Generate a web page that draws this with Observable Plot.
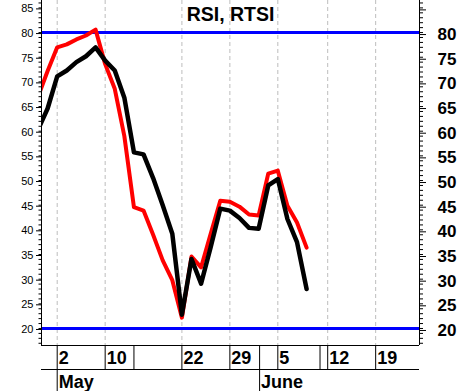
<!DOCTYPE html>
<html><head><meta charset="utf-8">
<script src="https://cdn.jsdelivr.net/npm/d3@7"></script>
<script src="https://cdn.jsdelivr.net/npm/@observablehq/plot@0.6"></script>
<style>body{margin:0;background:#fff}</style>
</head><body><div id="chart"></div>
<script>
const title = "RSI, RTSI";
// trading days (index 0 = 2 May 2006)
const tradingDays = ["2006-04-27","2006-04-28","2006-05-02","2006-05-03","2006-05-04","2006-05-05","2006-05-06",
  "2006-05-10","2006-05-11","2006-05-12","2006-05-15","2006-05-16","2006-05-17","2006-05-18","2006-05-19",
  "2006-05-22","2006-05-23","2006-05-24","2006-05-25","2006-05-26","2006-05-29","2006-05-30","2006-05-31",
  "2006-06-01","2006-06-02","2006-06-05","2006-06-06","2006-06-07","2006-06-08"];
const firstIndex = -2;
const redSeries = [67.0,72.2,77.0,77.6,78.6,79.4,80.6,73.6,68.6,59.0,44.6,43.9,39.0,33.8,29.8,22.2,34.6,32.4,39.2,45.9,45.7,44.7,43.1,42.9,51.4,52.0,44.9,41.5,36.4];
const blackSeries = [60.3,64.6,71.1,72.3,74.0,75.2,77.0,74.3,72.3,66.8,55.7,55.3,50.5,45.0,39.2,22.8,34.1,29.1,36.5,44.3,43.9,42.4,40.4,40.2,49.0,50.3,42.2,37.5,28.0];
const dayTickLabels = ["2","10","22","29","5","12","19"];
const dayTickIndex = [0,5,13,18,23,28.2,33.2];
const separatorIndex = [5,8,13,18,23,27.4,28.2,33.2];
const monthLabels = ["May","June"];
const monthIndex = [0,21.1];
const levels = [20,80];
const xDomain = [-1.637, 37.77];
const yDomain = [16.55, 86.5];
const majorTicks = d3.range(20, 90, 5);
const minorTicks = d3.range(17, 87);

const data = tradingDays.map((d, k) => ({date: d, i: k + firstIndex, red: redSeries[k], black: blackSeries[k]}));
const dayTicks = dayTickIndex.map((p, k) => ({p, label: dayTickLabels[k]}));
const months = monthIndex.map((p, k) => ({p, label: monthLabels[k]}));
const font = "'Liberation Sans', Arial, sans-serif";

const chart = Plot.plot({
  width: 460, height: 391,
  marginLeft: 41, marginRight: 41, marginTop: 0, marginBottom: 46,
  style: {fontFamily: font, background: "#fff", color: "#000", overflow: "visible"},
  x: {domain: xDomain, label: null},
  y: {domain: yDomain, label: null},
  marks: [
    Plot.ruleX(dayTickIndex, {stroke: "#bdbdbd", strokeDasharray: "4,3", strokeWidth: 1}),
    Plot.ruleY(levels, {stroke: "#0000ff", strokeWidth: 3}),
    Plot.line(data, {x: "i", y: "red", stroke: "#ff0000", strokeWidth: 4, clip: true}),
    Plot.line(data, {x: "i", y: "black", stroke: "#000", strokeWidth: 4.5, clip: true}),
    Plot.ruleX(xDomain, {stroke: "#000"}),
    Plot.ruleY([yDomain[0]], {stroke: "#000"}),
    Plot.ruleY([yDomain[0]], {stroke: "#000", dy: 24}),
    Plot.axisY(majorTicks, {anchor: "left", tickSize: 5, tickPadding: 3, fontSize: 11, dy: 1, label: null}),
    Plot.axisY(minorTicks, {anchor: "left", tickSize: 2.5, tickFormat: () => "", label: null}),
    Plot.axisY(majorTicks, {anchor: "right", tickSize: 6, tickPadding: 12, fontSize: 17, fontWeight: "bold", dy: 2,
      tickFormat: d => d === 85 ? "" : d, label: null}),
    Plot.axisY(minorTicks, {anchor: "right", tickSize: 3, tickFormat: () => "", label: null}),
    Plot.axisX(separatorIndex, {anchor: "bottom", tickSize: 24, tickFormat: () => "", label: null}),
    Plot.axisX(monthIndex, {anchor: "bottom", tickSize: 46, tickFormat: () => "", label: null}),
    Plot.text(dayTicks, {x: "p", text: "label", frameAnchor: "bottom", lineAnchor: "middle", textAnchor: "start",
      dx: 1.5, dy: 13, fontSize: 18, fontWeight: "bold"}),
    Plot.text(months, {x: "p", text: "label", frameAnchor: "bottom", lineAnchor: "middle", textAnchor: "start",
      dx: 1.5, dy: 36.5, fontSize: 18, fontWeight: "bold"}),
    Plot.text([title], {frameAnchor: "top", lineAnchor: "middle", dy: 14, fontSize: 19.5, fontWeight: "bold"})
  ]
});
document.getElementById("chart").appendChild(chart);
</script>
</body></html>
